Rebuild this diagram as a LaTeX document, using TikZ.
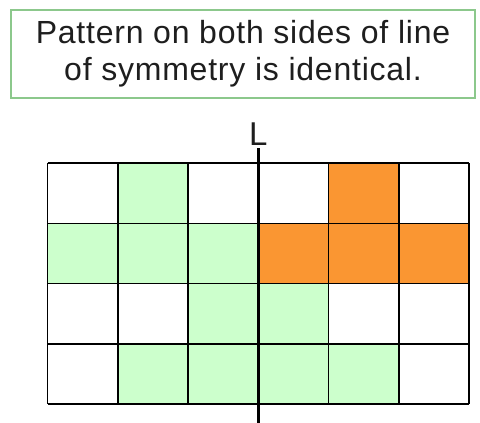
\documentclass[tikz,border=0pt]{standalone}
\usepackage{fontspec}
\setmainfont{Liberation Sans}
\usetikzlibrary{positioning}

\definecolor{boxgreen}{RGB}{140,200,140}
\definecolor{cellgreen}{RGB}{204,255,204}
\definecolor{cellorange}{RGB}{250,150,50}
\definecolor{textgrey}{RGB}{30,30,30}

\newfontfamily\captionfont[LetterSpace=2.4]{Liberation Sans}

\tikzset{
    captionbox/.style={draw=boxgreen, line width=1.2pt, fill=white,
        minimum width=464pt, minimum height=88pt, align=center,
        text=textgrey, font=\captionfont\fontsize{32}{37}\selectfont},
    gridline/.style={black, line width=1.5pt},
    symline/.style={black, line width=3pt},
}

\begin{document}
\begin{tikzpicture}[x=1pt, y=-1pt]

    % Page
    \useasboundingbox (0,0) rectangle (480,423);

    % Parameters
    \def\gx{47.5}
    \def\gy{163}
    \def\cw{70.25}
    \def\rh{60.25}

    % Caption
    \node[captionbox] (caption) at (243,54)
        {Pattern on both sides of line\\of symmetry is identical.};

    % Green cells (column/row)
    \foreach \c/\r in {2/1, 1/2, 2/2, 3/2, 3/3, 4/3, 2/4, 3/4, 4/4, 5/4}
        \fill[cellgreen] ({\gx+(\c-1)*\cw}, {\gy+(\r-1)*\rh})
            rectangle ++(\cw, \rh);

    % Orange cells
    \foreach \c/\r in {5/1, 4/2, 5/2, 6/2}
        \fill[cellorange] ({\gx+(\c-1)*\cw}, {\gy+(\r-1)*\rh})
            rectangle ++(\cw, \rh);

    % Grid
    \foreach \c in {0,...,6}
        \draw[gridline] ({\gx+\c*\cw}, \gy) -- ++(0, {4*\rh});
    \foreach \r in {0,...,4}
        \draw[gridline] (\gx, {\gy+\r*\rh}) -- ++({6*\cw}, 0);

    % Line of symmetry
    \coordinate (Ltop) at ({\gx+3*\cw}, 148);
    \coordinate (Lbot) at ({\gx+3*\cw}, 423);
    \draw[symline] (Ltop) -- (Lbot);
    \node[above=1pt of Ltop, inner sep=1pt, text=textgrey,
        font=\fontsize{33}{33}\selectfont] (Llabel) {L};

\end{tikzpicture}
\end{document}
